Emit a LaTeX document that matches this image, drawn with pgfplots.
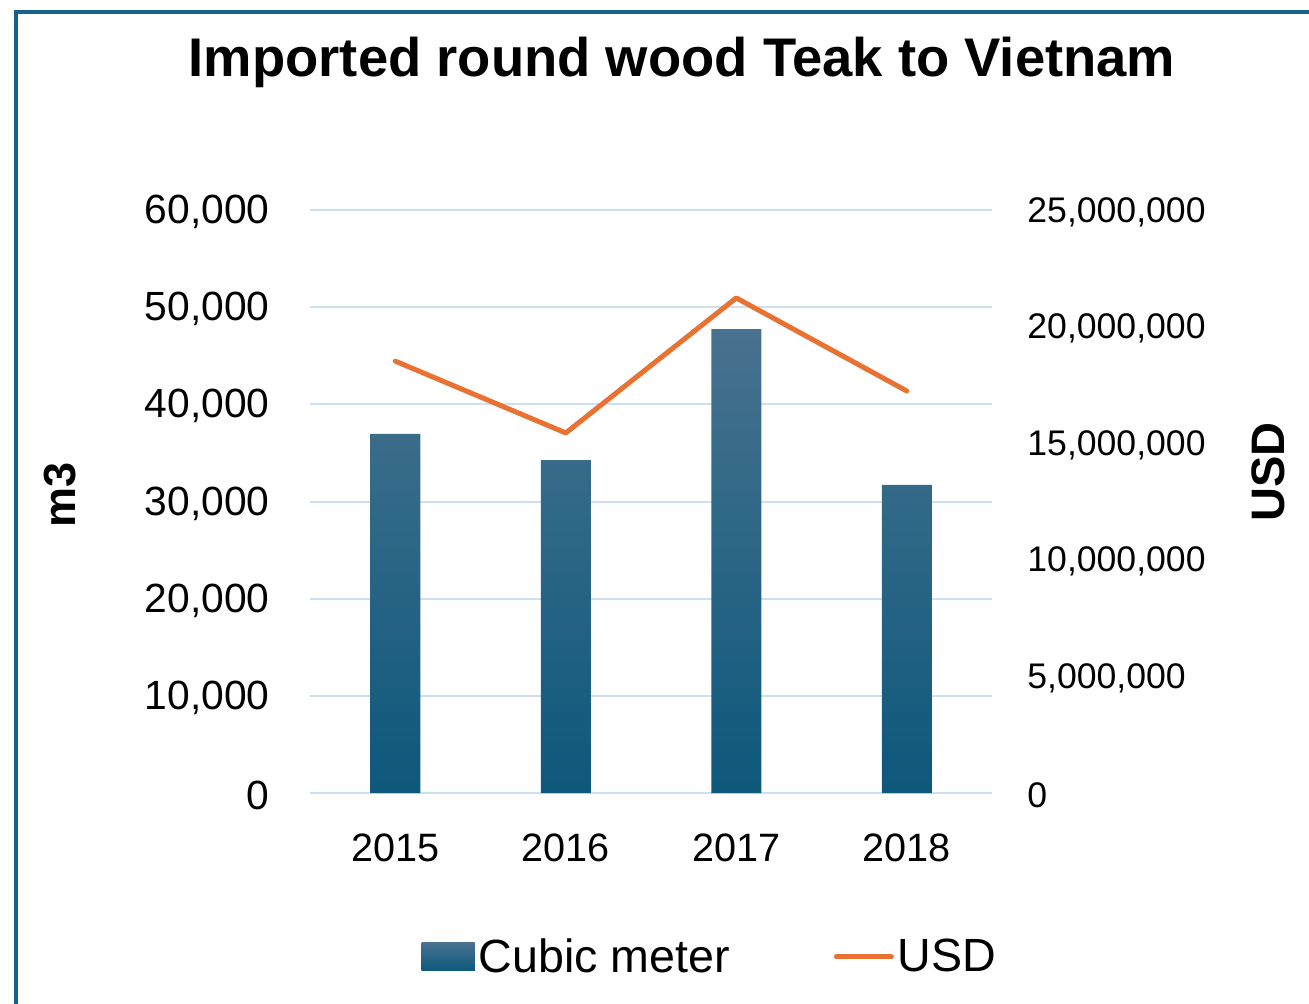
\documentclass[border=0pt]{standalone}
\usepackage{pgfplots}
\pgfplotsset{compat=1.18}
\usepackage{fontspec}
\setmainfont{Liberation Sans}
\definecolor{frameblue}{HTML}{17628A}
\definecolor{bartop}{HTML}{48728F}
\definecolor{barmid}{HTML}{186690}
\definecolor{barbot}{HTML}{0D587B}
\definecolor{usdorange}{HTML}{E97132}
\definecolor{gridblue}{HTML}{CCE0F3}
\begin{document}
\begin{tikzpicture}
\begin{axis}[
  scale only axis, width=341pt, height=291.5pt,
  xmin=-0.5, xmax=3.5, ymin=0, ymax=60000,
  xtick={0,1,2,3}, xticklabels={2015,2016,2017,2018},
  ytick={0,10000,20000,30000,40000,50000,60000},
  scaled y ticks=false,
  /pgf/number format/.cd, fixed, 1000 sep={,}, assume math mode=true, /pgfplots/.cd,
  axis line style={draw=none},
  major tick length=0pt,
  ymajorgrids, grid style={gridblue, line width=1pt},
  yticklabel style={anchor=east, inner sep=0pt, xshift=-20pt, yshift=-1pt, font=\fontsize{20.4}{24}\selectfont},
  xticklabel style={anchor=north, inner sep=0pt, yshift=-20.4pt, font=\fontsize{19.8}{24}\selectfont},
]
\addplot[ybar, bar width=25pt, draw=none, top color=bartop, middle color=barmid, bottom color=barbot]
  coordinates {(0,36950) (1,34250) (2,47750) (3,31700)};
\end{axis}
\begin{axis}[
  scale only axis, width=341pt, height=291.5pt,
  xmin=-0.5, xmax=3.5, ymin=0, ymax=25000000,
  axis y line*=right, hide x axis,
  ytick={0,5000000,10000000,15000000,20000000,25000000},
  scaled y ticks=false,
  /pgf/number format/.cd, fixed, 1000 sep={,}, assume math mode=true, /pgfplots/.cd,
  axis line style={draw=none},
  major tick length=0pt,
  yticklabel style={anchor=west, inner sep=0pt, xshift=17.5pt, yshift=-1pt, font=\fontsize{17.8}{22}\selectfont},
  legend style={at={(0.588,-0.281)}, anchor=center, draw=none, fill=none,
    legend columns=2, font=\fontsize{23.3}{28}\selectfont,
    /tikz/every even column/.append style={column sep=50pt}},
]
\addlegendimage{legend image code/.code={\fill[draw=none, top color=bartop, middle color=barmid, bottom color=barbot] (0pt,-7pt) rectangle (26.5pt,7pt);}}
\addlegendentry{Cubic meter}
\addplot[usdorange, line width=2.5pt, line cap=round, line join=round,
  legend image code/.code={\draw[usdorange, line width=2.5pt, line cap=round] (0pt,0pt) -- (27.5pt,0pt);}]
  coordinates {(0,18520000) (1,15440000) (2,21230000) (3,17240000)};
\addlegendentry{USD}
\end{axis}
\node[anchor=base, font=\bfseries\fontsize{27.2}{32}\selectfont] at (186pt,358.5pt) {Imported round wood Teak to Vietnam};
\node[rotate=90, anchor=center, font=\bfseries\fontsize{22.5}{27}\selectfont] at (-125pt,149pt) {m3};
\node[rotate=90, anchor=center, font=\bfseries\fontsize{23.5}{28}\selectfont] at (479pt,160.5pt) {USD};
\draw[frameblue, line width=2pt] (-147pt,-110pt) -- (-147pt,390.5pt) -- (510pt,390.5pt);
\pgfresetboundingbox
\path[use as bounding box] (-155pt,-105pt) rectangle (499.5pt,396.5pt);
\end{tikzpicture}
\end{document}
